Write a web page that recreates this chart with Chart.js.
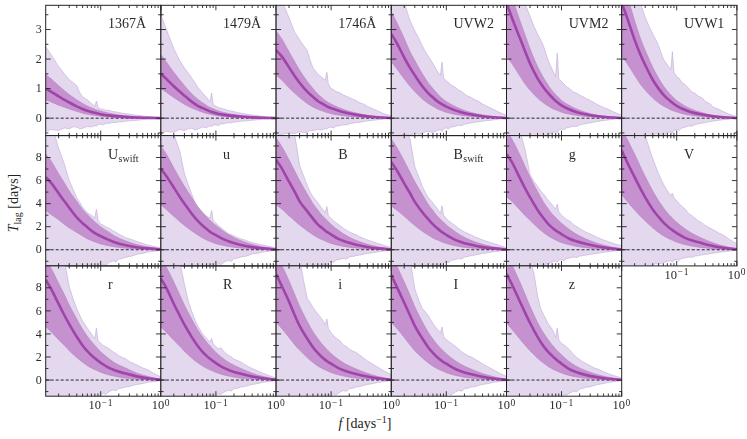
<!DOCTYPE html>
<html>
<head>
<meta charset="utf-8">
<script src="https://cdn.jsdelivr.net/npm/chart.js@4.4.1/dist/chart.umd.min.js"></script>
<style>
  body { margin: 0; background: #fff; }
  #wrap { position: relative; width: 747px; height: 439px; overflow: hidden; font-family: "Liberation Serif", serif; color: #222; }
  #wrap canvas { position: absolute; left: 0; top: 0; pointer-events: none; }
  .ylab { position: absolute; left: -46px; top: 193px; width: 120px; height: 20px; line-height: 20px; text-align: center; transform: rotate(-90deg); font-size: 14px; white-space: nowrap; }
  .xlab { position: absolute; left: 305px; top: 414px; width: 120px; height: 20px; line-height: 20px; text-align: center; font-size: 14px; white-space: nowrap; }
  .sub { font-size: 10px; position: relative; top: 3px; }
  .sup { font-size: 10px; position: relative; top: -5px; }
</style>
</head>
<body>
<div id="wrap">
  <div class="ylab"><i>T</i><span class="sub">lag</span> [days]</div>
  <div class="xlab"><i>f</i> [days<span class="sup">−1</span>]</div>
</div>
<script>
// frequency grid for median and 1-sigma band, days^-1
const freqs = [0.0122, 0.015, 0.02, 0.025, 0.03, 0.04, 0.05, 0.06, 0.07, 0.08, 0.085, 0.09, 0.1, 0.13, 0.17, 0.25, 0.4, 0.6, 1.0];
// finer grid for the noisy 2-sigma band
const outerFreqs = [0.0122, 0.015, 0.02, 0.025, 0.03, 0.035, 0.04, 0.045, 0.05, 0.06, 0.07, 0.08, 0.085, 0.09, 0.1,
  0.11, 0.12, 0.14, 0.16, 0.18, 0.2, 0.23, 0.26, 0.3, 0.35, 0.4, 0.5, 0.6, 0.75, 1.0];

const bandLabels = ["1367Å", "1479Å", "1746Å", "UVW2", "UVM2", "UVW1",
  "U_swift", "u", "B", "B_swift", "g", "V",
  "r", "R", "i", "I", "z"];

// median lag per band
const medianLag = [
  [1.0, 0.9, 0.74, 0.62, 0.53, 0.4, 0.31, 0.25, 0.21, 0.18, 0.17, 0.16, 0.13, 0.095, 0.07, 0.045, 0.022, 0.012, 0.002],
  [1.5, 1.33, 1.08, 0.9, 0.76, 0.55, 0.42, 0.34, 0.28, 0.23, 0.21, 0.2, 0.17, 0.12, 0.085, 0.055, 0.028, 0.014, 0.003],
  [2.3, 2.1, 1.72, 1.42, 1.2, 0.9, 0.72, 0.58, 0.5, 0.43, 0.4, 0.38, 0.34, 0.26, 0.19, 0.12, 0.06, 0.03, 0.005],
  [2.85, 2.55, 2.05, 1.7, 1.45, 1.08, 0.85, 0.7, 0.58, 0.5, 0.47, 0.44, 0.39, 0.29, 0.21, 0.13, 0.065, 0.032, 0.005],
  [3.9, 3.4, 2.75, 2.25, 1.85, 1.35, 1.05, 0.85, 0.7, 0.58, 0.54, 0.5, 0.43, 0.31, 0.22, 0.13, 0.065, 0.03, 0.005],
  [3.9, 3.4, 2.65, 2.15, 1.8, 1.3, 1.0, 0.8, 0.66, 0.56, 0.52, 0.48, 0.42, 0.3, 0.21, 0.13, 0.065, 0.03, 0.005],
  [6.3, 5.8, 4.9, 4.2, 3.65, 2.8, 2.3, 1.95, 1.65, 1.45, 1.37, 1.3, 1.18, 0.9, 0.66, 0.42, 0.22, 0.12, 0.02],
  [7.0, 6.4, 5.4, 4.6, 4.0, 3.1, 2.5, 2.1, 1.8, 1.55, 1.47, 1.4, 1.27, 0.95, 0.7, 0.44, 0.23, 0.12, 0.02],
  [7.8, 7.1, 5.9, 5.0, 4.2, 3.35, 2.7, 2.2, 1.9, 1.65, 1.55, 1.47, 1.33, 0.96, 0.72, 0.46, 0.24, 0.12, 0.02],
  [7.6, 6.9, 5.75, 4.9, 4.15, 3.25, 2.65, 2.2, 1.88, 1.62, 1.52, 1.45, 1.3, 0.95, 0.7, 0.45, 0.23, 0.12, 0.02],
  [8.3, 7.6, 6.3, 5.3, 4.55, 3.45, 2.75, 2.25, 1.92, 1.68, 1.58, 1.5, 1.35, 1.0, 0.76, 0.52, 0.28, 0.14, 0.02],
  [8.6, 7.6, 6.3, 5.3, 4.55, 3.5, 2.85, 2.38, 2.05, 1.8, 1.7, 1.6, 1.45, 1.1, 0.85, 0.6, 0.33, 0.17, 0.03],
  [8.7, 7.9, 6.6, 5.6, 4.85, 3.75, 3.0, 2.5, 2.15, 1.9, 1.78, 1.68, 1.5, 1.12, 0.85, 0.58, 0.32, 0.16, 0.02],
  [8.8, 8.0, 6.6, 5.6, 4.8, 3.7, 2.95, 2.45, 2.1, 1.85, 1.74, 1.64, 1.47, 1.1, 0.83, 0.56, 0.31, 0.16, 0.02],
  [9.2, 8.2, 6.8, 5.6, 4.7, 3.6, 2.85, 2.35, 2.0, 1.75, 1.65, 1.56, 1.42, 1.06, 0.8, 0.54, 0.3, 0.15, 0.02],
  [9.1, 8.1, 6.7, 5.6, 4.7, 3.6, 2.85, 2.35, 2.0, 1.75, 1.65, 1.56, 1.42, 1.05, 0.78, 0.52, 0.29, 0.14, 0.02],
  [9.2, 8.3, 6.9, 5.8, 4.95, 3.75, 2.95, 2.45, 2.1, 1.82, 1.7, 1.6, 1.42, 1.0, 0.72, 0.45, 0.24, 0.12, 0.02],
];

// 1-sigma band
const innerHigh = [
  [1.48, 1.33, 1.1, 0.93, 0.8, 0.62, 0.5, 0.41, 0.35, 0.3, 0.28, 0.27, 0.24, 0.18, 0.13, 0.085, 0.045, 0.025, 0.005],
  [2.15, 1.9, 1.55, 1.3, 1.1, 0.82, 0.64, 0.52, 0.43, 0.36, 0.34, 0.32, 0.28, 0.2, 0.15, 0.1, 0.055, 0.03, 0.005],
  [2.95, 2.7, 2.25, 1.9, 1.62, 1.25, 1.0, 0.82, 0.7, 0.6, 0.56, 0.53, 0.48, 0.37, 0.28, 0.18, 0.1, 0.05, 0.01],
  [3.6, 3.25, 2.7, 2.25, 1.95, 1.5, 1.2, 1.0, 0.84, 0.72, 0.67, 0.63, 0.56, 0.43, 0.32, 0.2, 0.11, 0.055, 0.01],
  [4.6, 4.1, 3.35, 2.8, 2.35, 1.75, 1.38, 1.12, 0.93, 0.8, 0.74, 0.7, 0.6, 0.45, 0.33, 0.2, 0.1, 0.05, 0.01],
  [4.7, 4.15, 3.3, 2.7, 2.3, 1.72, 1.35, 1.1, 0.92, 0.78, 0.73, 0.68, 0.6, 0.44, 0.32, 0.2, 0.1, 0.05, 0.01],
  [8.3, 7.7, 6.6, 5.8, 5.1, 4.2, 3.5, 3.05, 2.7, 2.4, 2.3, 2.2, 2.0, 1.6, 1.2, 0.8, 0.45, 0.25, 0.05],
  [9.0, 8.3, 7.1, 6.2, 5.5, 4.5, 3.75, 3.25, 2.85, 2.55, 2.42, 2.3, 2.1, 1.65, 1.25, 0.82, 0.46, 0.25, 0.05],
  [9.7, 9.0, 7.8, 6.8, 6.0, 4.85, 4.0, 3.45, 3.0, 2.7, 2.55, 2.42, 2.2, 1.72, 1.3, 0.85, 0.48, 0.26, 0.05],
  [9.6, 8.9, 7.7, 6.7, 5.9, 4.8, 3.95, 3.4, 2.95, 2.65, 2.5, 2.4, 2.15, 1.7, 1.28, 0.84, 0.47, 0.26, 0.05],
  [10.3, 9.6, 8.3, 7.2, 6.3, 5.05, 4.15, 3.55, 3.1, 2.8, 2.65, 2.52, 2.3, 1.82, 1.4, 0.95, 0.55, 0.3, 0.05],
  [10.5, 9.6, 8.3, 7.2, 6.35, 5.1, 4.25, 3.65, 3.2, 2.88, 2.74, 2.6, 2.38, 1.9, 1.5, 1.05, 0.6, 0.33, 0.06],
  [10.5, 9.7, 8.4, 7.4, 6.5, 5.3, 4.4, 3.8, 3.35, 3.0, 2.85, 2.7, 2.45, 1.95, 1.5, 1.08, 0.6, 0.32, 0.05],
  [10.6, 9.8, 8.5, 7.4, 6.5, 5.25, 4.35, 3.75, 3.3, 2.95, 2.8, 2.65, 2.4, 1.9, 1.48, 1.05, 0.6, 0.32, 0.05],
  [10.8, 10.0, 8.6, 7.4, 6.4, 5.1, 4.2, 3.6, 3.15, 2.8, 2.66, 2.52, 2.3, 1.82, 1.42, 1.0, 0.58, 0.31, 0.05],
  [10.7, 9.9, 8.5, 7.35, 6.35, 5.05, 4.15, 3.55, 3.1, 2.78, 2.64, 2.5, 2.28, 1.8, 1.4, 0.98, 0.56, 0.3, 0.05],
  [11.0, 10.0, 8.6, 7.4, 6.4, 5.0, 4.1, 3.5, 3.05, 2.7, 2.55, 2.42, 2.2, 1.65, 1.25, 0.82, 0.46, 0.25, 0.05],
];

const innerLow = [
  [0.62, 0.55, 0.44, 0.37, 0.31, 0.23, 0.17, 0.13, 0.11, 0.09, 0.085, 0.08, 0.065, 0.045, 0.03, 0.018, 0.008, 0.004, 0],
  [1.0, 0.88, 0.7, 0.57, 0.47, 0.34, 0.26, 0.2, 0.16, 0.13, 0.12, 0.11, 0.09, 0.06, 0.04, 0.025, 0.012, 0.006, 0],
  [1.46, 1.3, 1.03, 0.84, 0.7, 0.5, 0.38, 0.3, 0.25, 0.21, 0.19, 0.18, 0.15, 0.11, 0.075, 0.045, 0.02, 0.01, 0],
  [1.9, 1.68, 1.33, 1.08, 0.9, 0.65, 0.5, 0.4, 0.32, 0.27, 0.25, 0.23, 0.2, 0.14, 0.1, 0.06, 0.028, 0.013, 0],
  [2.1, 1.85, 1.45, 1.15, 0.95, 0.68, 0.52, 0.41, 0.33, 0.28, 0.26, 0.24, 0.2, 0.14, 0.1, 0.06, 0.03, 0.013, 0],
  [2.1, 1.85, 1.45, 1.15, 0.95, 0.68, 0.52, 0.41, 0.34, 0.28, 0.26, 0.24, 0.21, 0.14, 0.1, 0.06, 0.03, 0.013, 0],
  [3.4, 3.05, 2.6, 2.2, 1.9, 1.5, 1.2, 0.95, 0.8, 0.68, 0.63, 0.58, 0.5, 0.36, 0.25, 0.14, 0.07, 0.03, 0],
  [3.9, 3.5, 2.9, 2.45, 2.1, 1.62, 1.28, 1.02, 0.85, 0.72, 0.66, 0.61, 0.53, 0.38, 0.26, 0.15, 0.07, 0.03, 0],
  [3.9, 3.55, 2.95, 2.5, 2.15, 1.65, 1.3, 1.05, 0.88, 0.75, 0.69, 0.63, 0.55, 0.39, 0.27, 0.15, 0.07, 0.03, 0],
  [3.8, 3.45, 2.9, 2.45, 2.1, 1.6, 1.27, 1.02, 0.86, 0.73, 0.67, 0.62, 0.54, 0.38, 0.26, 0.15, 0.07, 0.03, 0],
  [4.6, 4.2, 3.5, 2.95, 2.55, 1.92, 1.5, 1.2, 1.0, 0.85, 0.78, 0.72, 0.62, 0.45, 0.31, 0.18, 0.08, 0.04, 0],
  [4.8, 4.2, 3.45, 2.9, 2.5, 1.9, 1.5, 1.22, 1.03, 0.88, 0.82, 0.76, 0.66, 0.48, 0.34, 0.2, 0.09, 0.04, 0],
  [4.65, 4.2, 3.5, 3.0, 2.55, 1.95, 1.55, 1.25, 1.05, 0.9, 0.84, 0.78, 0.68, 0.48, 0.33, 0.17, 0.08, 0.035, 0],
  [4.6, 4.15, 3.45, 2.95, 2.5, 1.9, 1.5, 1.22, 1.02, 0.88, 0.82, 0.76, 0.66, 0.47, 0.32, 0.17, 0.08, 0.035, 0],
  [5.0, 4.5, 3.7, 3.05, 2.6, 1.95, 1.52, 1.22, 1.02, 0.87, 0.81, 0.75, 0.65, 0.46, 0.32, 0.17, 0.08, 0.035, 0],
  [5.0, 4.5, 3.7, 3.05, 2.55, 1.92, 1.5, 1.2, 1.0, 0.86, 0.8, 0.74, 0.64, 0.45, 0.31, 0.17, 0.08, 0.035, 0],
  [4.95, 4.4, 3.6, 3.0, 2.55, 1.9, 1.48, 1.18, 0.98, 0.83, 0.77, 0.71, 0.61, 0.42, 0.28, 0.15, 0.07, 0.03, 0],
];

// 2-sigma band, on outerFreqs
const outerHigh = [
  [2.42, 2.15, 1.75, 1.5, 1.3, 1.2, 1.1, 0.86, 0.72, 0.62, 0.5, 0.4, 0.58, 0.36, 0.31, 0.3, 0.27, 0.26, 0.22, 0.21, 0.19, 0.17, 0.15, 0.14, 0.11, 0.1, 0.07, 0.06, 0.04, 0.02],
  [3.5, 3.0, 2.35, 1.95, 1.7, 1.52, 1.35, 1.2, 1.05, 0.85, 0.7, 0.55, 0.85, 0.46, 0.4, 0.36, 0.34, 0.3, 0.26, 0.24, 0.22, 0.19, 0.17, 0.15, 0.12, 0.11, 0.08, 0.06, 0.04, 0.02],
  [5.0, 4.0, 3.4, 2.9, 2.65, 2.45, 2.3, 1.95, 1.7, 1.5, 1.38, 1.28, 1.55, 1.15, 1.0, 0.97, 0.9, 0.86, 0.78, 0.74, 0.7, 0.64, 0.6, 0.52, 0.47, 0.4, 0.31, 0.24, 0.15, 0.07],
  [6.0, 5.0, 3.9, 3.3, 2.95, 2.7, 2.45, 2.25, 2.1, 1.85, 1.6, 1.45, 1.9, 1.35, 1.27, 1.2, 1.12, 1.05, 0.95, 0.9, 0.82, 0.74, 0.7, 0.62, 0.56, 0.48, 0.38, 0.3, 0.2, 0.1],
  [6.5, 5.5, 4.4, 3.85, 3.45, 3.1, 2.85, 2.65, 2.45, 1.95, 1.65, 1.4, 2.2, 1.32, 1.25, 1.15, 1.08, 0.98, 0.88, 0.84, 0.78, 0.72, 0.66, 0.6, 0.52, 0.45, 0.36, 0.3, 0.2, 0.1],
  [6.5, 5.5, 4.5, 3.9, 3.4, 3.1, 2.85, 2.65, 2.45, 2.0, 1.8, 1.65, 2.25, 1.55, 1.4, 1.35, 1.22, 1.12, 1.0, 0.88, 0.85, 0.74, 0.7, 0.56, 0.5, 0.38, 0.3, 0.22, 0.13, 0.05],
  [13, 11, 8.8, 7.4, 6.0, 5.2, 4.5, 4.1, 3.7, 3.2, 3.0, 2.75, 3.5, 2.6, 2.2, 2.15, 2.0, 1.85, 1.65, 1.5, 1.35, 1.2, 1.05, 0.95, 0.82, 0.72, 0.55, 0.42, 0.3, 0.15],
  [14, 12, 10, 8.6, 6.6, 5.6, 4.8, 4.0, 3.5, 3.1, 2.9, 2.75, 3.4, 2.55, 2.3, 2.1, 1.95, 1.65, 1.4, 1.3, 1.2, 1.05, 0.95, 0.85, 0.72, 0.62, 0.5, 0.42, 0.3, 0.15],
  [14, 12, 10.5, 9.9, 7.3, 6.4, 5.6, 5.0, 4.6, 4.1, 3.6, 3.2, 3.75, 2.95, 2.7, 2.5, 2.35, 2.1, 1.85, 1.7, 1.55, 1.4, 1.3, 1.12, 0.98, 0.85, 0.68, 0.55, 0.38, 0.17],
  [14, 12, 10.5, 9.6, 7.2, 6.3, 5.5, 4.95, 4.55, 4.05, 3.6, 3.15, 3.8, 3.0, 2.7, 2.5, 2.35, 2.1, 1.85, 1.68, 1.55, 1.4, 1.28, 1.1, 0.98, 0.85, 0.68, 0.55, 0.38, 0.17],
  [14, 12, 10.5, 8.6, 6.5, 5.9, 5.5, 5.1, 4.85, 4.3, 3.9, 3.5, 3.95, 3.3, 3.0, 2.8, 2.65, 2.45, 2.15, 2.0, 1.85, 1.65, 1.5, 1.38, 1.2, 1.05, 0.85, 0.7, 0.52, 0.35],
  [15, 13, 11.5, 10.5, 9.9, 8.8, 7.9, 7.2, 6.6, 5.7, 5.1, 4.7, 4.9, 4.5, 4.25, 4.0, 3.8, 3.5, 3.1, 2.95, 2.75, 2.5, 2.35, 2.1, 1.9, 1.75, 1.45, 1.25, 0.9, 0.5],
  [15, 13, 11.5, 10.3, 8.1, 7.0, 6.2, 5.6, 5.1, 4.5, 4.0, 3.6, 4.5, 3.4, 3.2, 3.0, 2.9, 2.7, 2.45, 2.3, 2.1, 1.95, 1.85, 1.6, 1.45, 1.3, 1.05, 0.9, 0.6, 0.26],
  [15, 13, 11.5, 10.3, 8.3, 6.8, 5.9, 5.2, 4.7, 4.0, 3.6, 3.3, 3.6, 3.1, 2.9, 2.7, 2.8, 2.4, 2.15, 2.0, 1.8, 1.7, 1.55, 1.35, 1.15, 1.0, 0.78, 0.6, 0.4, 0.17],
  [15, 13, 12, 11, 10.5, 8.6, 7.1, 6.7, 6.3, 5.75, 5.3, 4.8, 5.3, 4.45, 4.1, 3.85, 3.65, 3.4, 3.05, 2.9, 2.7, 2.5, 2.4, 2.15, 1.9, 1.65, 1.35, 1.1, 0.8, 0.45],
  [15, 13, 11.5, 10.5, 7.9, 6.9, 6.2, 5.9, 5.6, 4.9, 4.45, 4.1, 4.6, 3.8, 3.5, 3.35, 3.2, 2.95, 2.7, 2.45, 2.3, 2.1, 2.0, 1.8, 1.6, 1.4, 1.12, 0.9, 0.62, 0.3],
  [15, 13, 12, 11, 10.5, 9.2, 7.3, 6.2, 5.7, 4.9, 4.4, 3.7, 4.5, 3.5, 3.2, 3.05, 2.9, 2.55, 2.2, 1.95, 1.78, 1.55, 1.42, 1.25, 1.05, 0.95, 0.72, 0.55, 0.38, 0.17],
];

const outerLow = [
  [-0.45, -0.38, -0.42, -0.33, -0.36, -0.29, -0.3, -0.36, -0.34, -0.28, -0.3, -0.25, -0.27, -0.22, -0.2, -0.23, -0.18, -0.17, -0.14, -0.15, -0.12, -0.12, -0.1, -0.09, -0.08, -0.07, -0.05, -0.04, -0.03, -0.01],
  [-0.5, -0.45, -0.48, -0.38, -0.42, -0.35, -0.34, -0.4, -0.37, -0.3, -0.32, -0.26, -0.28, -0.24, -0.22, -0.25, -0.2, -0.18, -0.15, -0.16, -0.13, -0.12, -0.1, -0.1, -0.08, -0.07, -0.05, -0.04, -0.03, -0.01],
  [-0.6, -0.55, -0.5, -0.52, -0.45, -0.5, -0.48, -0.42, -0.42, -0.38, -0.4, -0.35, -0.37, -0.32, -0.3, -0.33, -0.27, -0.25, -0.22, -0.23, -0.19, -0.17, -0.15, -0.14, -0.11, -0.09, -0.07, -0.05, -0.03, -0.01],
  [-0.7, -0.62, -0.55, -0.58, -0.5, -0.55, -0.52, -0.46, -0.45, -0.48, -0.42, -0.38, -0.45, -0.35, -0.33, -0.36, -0.3, -0.28, -0.24, -0.25, -0.21, -0.18, -0.16, -0.14, -0.12, -0.1, -0.08, -0.06, -0.03, -0.01],
  [-0.8, -0.75, -0.7, -0.72, -0.65, -0.6, -0.6, -0.64, -0.62, -0.55, -0.5, -0.45, -0.5, -0.4, -0.36, -0.4, -0.33, -0.3, -0.27, -0.28, -0.23, -0.2, -0.18, -0.16, -0.13, -0.11, -0.08, -0.06, -0.03, -0.01],
  [-0.8, -0.7, -0.75, -0.65, -0.68, -0.6, -0.6, -0.52, -0.55, -0.58, -0.5, -0.46, -0.5, -0.42, -0.38, -0.41, -0.34, -0.3, -0.26, -0.27, -0.22, -0.19, -0.17, -0.15, -0.12, -0.1, -0.07, -0.05, -0.03, -0.01],
  [-2.5, -2.4, -2.3, -2.2, -2.1, -2.05, -2.0, -1.95, -1.9, -1.8, -1.7, -1.65, -1.7, -1.6, -1.5, -1.25, -1.35, -1.1, -0.95, -1.05, -0.8, -0.75, -0.65, -0.6, -0.5, -0.38, -0.32, -0.2, -0.14, -0.05],
  [-2.5, -2.4, -2.3, -2.2, -2.1, -2.05, -2.0, -1.95, -1.9, -1.8, -1.7, -1.6, -1.65, -1.55, -1.45, -1.2, -1.3, -1.05, -0.9, -1.0, -0.78, -0.72, -0.62, -0.58, -0.48, -0.36, -0.3, -0.2, -0.13, -0.05],
  [-2.5, -2.4, -2.3, -2.2, -2.1, -2.05, -2.0, -1.9, -1.8, -1.6, -1.4, -1.2, -1.35, -1.1, -1.0, -1.1, -0.9, -0.82, -0.75, -0.8, -0.62, -0.58, -0.5, -0.46, -0.38, -0.32, -0.25, -0.18, -0.11, -0.04],
  [-2.5, -2.4, -2.3, -2.2, -2.1, -2.05, -2.0, -1.9, -1.8, -1.6, -1.45, -1.25, -1.35, -1.15, -1.05, -1.12, -0.92, -0.85, -0.76, -0.8, -0.63, -0.58, -0.5, -0.46, -0.38, -0.32, -0.25, -0.18, -0.11, -0.04],
  [-2.5, -2.4, -2.3, -2.2, -2.0, -1.9, -1.8, -1.5, -1.3, -1.2, -1.05, -0.95, -1.1, -0.9, -0.85, -0.95, -0.78, -0.7, -0.62, -0.68, -0.55, -0.5, -0.45, -0.4, -0.34, -0.3, -0.22, -0.17, -0.1, -0.04],
  [-2.5, -2.3, -2.1, -1.9, -1.6, -1.45, -1.3, -1.2, -1.25, -1.1, -1.0, -0.95, -1.08, -0.9, -0.85, -0.92, -0.76, -0.7, -0.62, -0.66, -0.55, -0.5, -0.45, -0.4, -0.34, -0.3, -0.22, -0.17, -0.1, -0.04],
  [-2.5, -2.4, -2.3, -2.2, -2.1, -2.05, -2.0, -1.95, -1.9, -1.7, -1.6, -1.5, -1.55, -1.4, -1.3, -1.15, -1.25, -1.0, -0.85, -0.92, -0.72, -0.68, -0.6, -0.55, -0.45, -0.38, -0.3, -0.2, -0.13, -0.05],
  [-2.5, -2.4, -2.3, -2.2, -2.1, -2.05, -2.0, -1.95, -1.9, -1.75, -1.6, -1.5, -1.55, -1.4, -1.3, -1.2, -1.25, -1.02, -0.88, -0.95, -0.74, -0.7, -0.6, -0.56, -0.46, -0.38, -0.3, -0.2, -0.13, -0.05],
  [-2.5, -2.4, -2.3, -2.2, -2.1, -2.05, -2.0, -1.95, -1.9, -1.8, -1.7, -1.6, -1.65, -1.5, -1.4, -1.2, -1.3, -1.05, -0.9, -0.98, -0.75, -0.7, -0.6, -0.56, -0.46, -0.38, -0.3, -0.2, -0.13, -0.05],
  [-2.5, -2.4, -2.3, -2.2, -2.1, -2.05, -2.0, -1.95, -1.9, -1.8, -1.7, -1.55, -1.6, -1.45, -1.35, -1.2, -1.28, -1.05, -0.9, -0.96, -0.75, -0.7, -0.6, -0.56, -0.46, -0.38, -0.3, -0.2, -0.13, -0.05],
  [-2.5, -2.4, -2.3, -2.2, -2.1, -2.05, -2.0, -1.95, -1.9, -1.8, -1.7, -1.6, -1.65, -1.5, -1.4, -1.25, -1.32, -1.1, -0.95, -1.02, -0.78, -0.72, -0.62, -0.58, -0.48, -0.38, -0.3, -0.2, -0.13, -0.05],
];

// axes
const yLimTop = [-0.59, 3.82];
const yLimLow = [-1.4, 9.9];
const yMajorTop = [0, 1, 2, 3];
const yMinorTop = [-0.5, 0.5, 1.5, 2.5, 3.5];
const yMajorLow = [0, 2, 4, 6, 8];
const yMinorLow = [-1, 1, 3, 5, 7, 9];
const xMajorTicks = [0.1, 1];
const xMajorExp = ["−1", "0"];
const xMinorTicks = [0.02, 0.03, 0.04, 0.05, 0.06, 0.07, 0.08, 0.09, 0.2, 0.3, 0.4, 0.5, 0.6, 0.7, 0.8, 0.9];

// layout
const W = 747, H = 439;
const colX = [45.7, 160.9, 276.1, 391.3, 506.5, 621.7, 736.9];
const rowY = [5.3, 135.6, 265.9, 396.2];
const FONT = "'Liberation Serif', serif";

const outerFill = "#e4d8ee";
const outerEdge = "#c7b1de";
const innerFill = "#c592cf";
const innerEdge = "#b880c4";
const medianColor = "#a043aa";

const panelDecor = {
  id: "panelDecor",
  afterDraw(chart, args, o) {
    const { ctx, chartArea: a } = chart;
    const sx = chart.scales.x, sy = chart.scales.y;
    ctx.save();
    ctx.strokeStyle = "#222";
    ctx.lineWidth = 0.9;
    ctx.beginPath();
    const xt = (v, len) => {
      const px = sx.getPixelForValue(v);
      ctx.moveTo(px, a.bottom); ctx.lineTo(px, a.bottom - len);
      ctx.moveTo(px, a.top); ctx.lineTo(px, a.top + len);
    };
    const yt = (v, len) => {
      const py = sy.getPixelForValue(v);
      ctx.moveTo(a.left, py); ctx.lineTo(a.left + len, py);
      ctx.moveTo(a.right, py); ctx.lineTo(a.right - len, py);
    };
    xMinorTicks.forEach(v => xt(v, 2.7));
    xMajorTicks.forEach(v => xt(v, 5));
    o.yMinor.forEach(v => yt(v, 2.7));
    o.yMajor.forEach(v => yt(v, 5));
    ctx.stroke();
    ctx.lineWidth = 1;
    ctx.strokeRect(a.left, a.top, a.right - a.left, a.bottom - a.top);

    ctx.fillStyle = "#2a2a2a";
    if (o.showY) {
      ctx.font = "12px " + FONT;
      ctx.textAlign = "right";
      ctx.textBaseline = "middle";
      o.yMajor.forEach(v => ctx.fillText(String(v), a.left - 4, sy.getPixelForValue(v) + 0.5));
    }
    if (o.showX) {
      ctx.textAlign = "left";
      ctx.textBaseline = "alphabetic";
      xMajorTicks.forEach((v, i) => {
        const px = sx.getPixelForValue(v);
        const chars = [...xMajorExp[i]];
        ctx.font = "12.5px " + FONT;
        const w1 = ctx.measureText("10").width;
        ctx.font = "9.5px " + FONT;
        const ws = chars.map(c => ctx.measureText(c).width + 1);
        const w2 = ws.reduce((s, w) => s + w, 0);
        let x = px - (w1 + w2) / 2;
        ctx.font = "12.5px " + FONT;
        ctx.fillText("10", x, a.bottom + 13);
        x += w1 + 0.5;
        ctx.font = "9.5px " + FONT;
        chars.forEach((c, j) => { ctx.fillText(c, x, a.bottom + 9.3); x += ws[j]; });
      });
    }
    // band name
    const [main, sub] = o.label.split("_");
    const lx = a.left + 0.54 * (a.right - a.left);
    const ly = a.top + 23;
    ctx.textAlign = "left";
    ctx.textBaseline = "alphabetic";
    ctx.font = "14px " + FONT;
    ctx.fillText(main, lx, ly);
    if (sub) {
      const w = ctx.measureText(main).width;
      ctx.font = "10px " + FONT;
      ctx.fillText(sub, lx + w + 0.5, ly + 3);
    }
    ctx.restore();
  }
};

const points = (xs, arr) => xs.map((f, i) => ({ x: f, y: arr[i] }));
const xMin = freqs[0], xMax = freqs[freqs.length - 1];
const wrap = document.getElementById("wrap");

bandLabels.forEach((label, k) => {
  const row = Math.floor(k / 6), col = k % 6;
  const x0 = colX[col], x1 = colX[col + 1];
  const y0 = rowY[row], y1 = rowY[row + 1];
  const lim = row === 0 ? yLimTop : yLimLow;
  const isBottom = row === 2 || (row === 1 && col === 5);

  const canvas = document.createElement("canvas");
  canvas.width = W;
  canvas.height = H;
  wrap.appendChild(canvas);

  new Chart(canvas, {
    type: "line",
    data: {
      datasets: [
        { data: points(outerFreqs, outerLow[k]), borderColor: outerEdge, borderWidth: 0.7, pointRadius: 0, fill: false, order: 4, clip: 0 },
        { data: points(outerFreqs, outerHigh[k]), borderColor: outerEdge, borderWidth: 0.7, pointRadius: 0, fill: "-1", backgroundColor: outerFill, order: 4, clip: 0 },
        { data: points(freqs, innerLow[k]), borderColor: innerEdge, borderWidth: 0.6, pointRadius: 0, fill: false, order: 3, cubicInterpolationMode: "monotone", clip: 0 },
        { data: points(freqs, innerHigh[k]), borderColor: innerEdge, borderWidth: 0.6, pointRadius: 0, fill: "-1", backgroundColor: innerFill, order: 3, cubicInterpolationMode: "monotone", clip: 0 },
        { data: [{ x: xMin, y: 0 }, { x: xMax, y: 0 }], borderColor: "#111", borderWidth: 0.9, borderDash: [3, 2], pointRadius: 0, fill: false, order: 2, clip: 0 },
        { data: points(freqs, medianLag[k]), borderColor: medianColor, borderWidth: 2.6, pointRadius: 0, fill: false, order: 1, cubicInterpolationMode: "monotone", clip: 0 },
      ],
    },
    options: {
      responsive: false,
      animation: false,
      events: [],
      layout: { padding: { left: x0, top: y0, right: W - x1, bottom: H - y1 } },
      plugins: {
        legend: { display: false },
        tooltip: { enabled: false },
        panelDecor: {
          label,
          yMajor: row === 0 ? yMajorTop : yMajorLow,
          yMinor: row === 0 ? yMinorTop : yMinorLow,
          showY: col === 0,
          showX: isBottom,
        },
      },
      scales: {
        x: { type: "logarithmic", min: xMin, max: xMax, display: false },
        y: { type: "linear", min: lim[0], max: lim[1], display: false },
      },
    },
    plugins: [panelDecor],
  });
});
</script>
</body>
</html>
